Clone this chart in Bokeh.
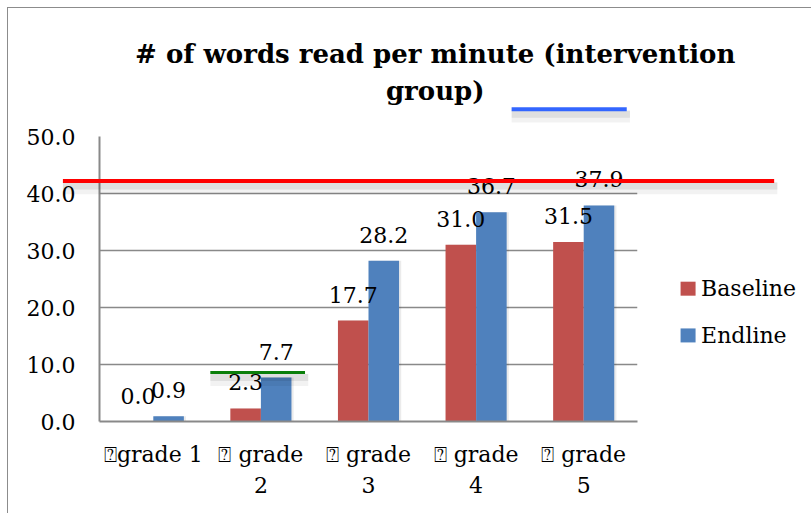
from bokeh.plotting import figure
from bokeh.models import (FactorRange, Range1d, FixedTicker, NumeralTickFormatter, ColumnDataSource)
from bokeh.transform import dodge
from bokeh.core.properties import value
from bokeh.embed import file_html
from bokeh.resources import INLINE

# ---- data ----
grades = ["\u2370grade 1", "\u2370 grade\n2", "\u2370 grade\n3", "\u2370 grade\n4", "\u2370 grade\n5"]
baseline = [0.0, 2.3, 17.7, 31.0, 31.5]
endline = [0.9, 7.7, 28.2, 36.7, 37.9]
y_ticks = [0, 10, 20, 30, 40, 50]
series_names = ["Baseline", "Endline"]
series_colors = ["#C0504D", "#4F81BD"]
title_lines = ["# of words read per minute (intervention", "group)"]
title_x = [3.12, 3.12]          # centre of the title, in category units
title_y = [64.4, 58.0]          # middles of the two title lines, in value units
legend_x = [5.47, 5.47]         # legend swatch centres (category units)
legend_y = [23.3, 15.1]         # legend rows (value units)

# hand-drawn marker lines on top of the chart (category units / value units)
mark_x0 = [-0.34, 1.03, 3.83]
mark_x1 = [6.27, 1.91, 4.90]
mark_y = [42.2, 8.6, 54.8]
mark_color = ["#FF0000", "#0A7F0A", "#3366FF"]
mark_width = [4, 3, 4]

FONT = "DejaVu Serif"
GRAY = "#898989"

src = ColumnDataSource(dict(
    grade=grades, baseline=baseline, endline=endline,
    bl_lbl=[f"{v:.1f}" for v in baseline],
    el_lbl=[f"{v:.1f}" for v in endline],
))

p = figure(width=804, height=506, x_range=FactorRange(*grades), y_range=Range1d(0, 50),
           output_backend="svg", toolbar_location=None, title=None,
           min_border_left=91, min_border_right=175, min_border_top=128, min_border_bottom=93,
           styles={"margin-left": "7px", "margin-top": "7px",
                   "border-left": "1px solid #8c8c8c", "border-top": "1px solid #8c8c8c"})
p.x_range.range_padding = 0
p.outline_line_color = None
p.background_fill_color = "white"
p.border_fill_color = "white"

# axes
p.yaxis.ticker = FixedTicker(ticks=y_ticks)
p.yaxis.formatter = NumeralTickFormatter(format="0.0")
for ax in (p.xaxis[0], p.yaxis[0]):
    ax.major_tick_line_color = None
    ax.minor_tick_line_color = None
    ax.axis_line_color = GRAY
    ax.axis_line_width = 2
    ax.major_label_text_font = FONT
    ax.major_label_text_font_size = "22px"
    ax.major_label_text_color = "black"
p.yaxis.major_label_standoff = 18
p.xaxis.major_label_standoff = 14
p.xaxis.major_label_text_line_height = 1.27
p.xgrid.grid_line_color = None
p.ygrid.grid_line_color = GRAY
p.ygrid.grid_line_width = 1.5
p.ygrid.ticker = FixedTicker(ticks=y_ticks)

# soft bar shadows
p.vbar(x=dodge("grade", -0.142 + 0.02, range=p.x_range), top="baseline", width=0.284,
       source=src, fill_color="black", fill_alpha=0.08, line_color=None)
p.vbar(x=dodge("grade", 0.142 + 0.02, range=p.x_range), top="endline", width=0.284,
       source=src, fill_color="black", fill_alpha=0.08, line_color=None)

# bars
p.vbar(x=dodge("grade", -0.142, range=p.x_range), top="baseline", width=0.284,
       source=src, fill_color=series_colors[0], line_color=None)
p.vbar(x=dodge("grade", 0.142, range=p.x_range), top="endline", width=0.284,
       source=src, fill_color=series_colors[1], line_color=None)

# data labels
p.text(x=dodge("grade", -0.142, range=p.x_range), y="baseline", text="bl_lbl", source=src,
       text_align="center", text_baseline="middle", y_offset=-26,
       text_font=value(FONT), text_font_size="22px", text_color="black")
p.text(x=dodge("grade", 0.142, range=p.x_range), y="endline", text="el_lbl", source=src,
       text_align="center", text_baseline="middle", y_offset=-26,
       text_font=value(FONT), text_font_size="22px", text_color="black")

# title (overlay level so it is drawn above the plot frame)
tsrc = ColumnDataSource(dict(x=title_x, y=title_y, t=title_lines))
p.text(x="x", y="y", text="t", source=tsrc, text_align="center", text_baseline="middle",
       text_font=value(FONT), text_font_size="26px", text_font_style="bold",
       text_color="black", level="overlay")

# legend (drawn to the right of the frame)
lsrc = ColumnDataSource(dict(x=legend_x, y=legend_y, name=series_names, color=series_colors))
p.rect(x="x", y="y", width=15, height=14, width_units="screen", height_units="screen",
       source=lsrc, fill_color="color", line_color=None, level="overlay")
p.text(x="x", y="y", text="name", source=lsrc, x_offset=13, text_baseline="middle",
       text_font=value(FONT), text_font_size="22px", text_color="black", level="overlay")

# hand-drawn marker lines with soft shadows (overlay level: not clipped to the frame)
msrc = ColumnDataSource(dict(x0=mark_x0, x1=mark_x1, y=mark_y, color=mark_color, w=mark_width,
                             ys1=[v - 0.9 for v in mark_y], ys2=[v - 1.3 for v in mark_y],
                             x1s=[v + 0.03 for v in mark_x1]))
p.segment(x0="x0", x1="x1s", y0="ys2", y1="ys2", source=msrc, line_color="black",
          line_alpha=0.05, line_width=12, level="overlay")
p.segment(x0="x0", x1="x1s", y0="ys1", y1="ys1", source=msrc, line_color="black",
          line_alpha=0.08, line_width=7, level="overlay")
p.segment(x0="x0", x1="x1", y0="y", y1="y", source=msrc, line_color="color",
          line_width="w", level="overlay")

open("out.html", "w").write(file_html(p, INLINE))
